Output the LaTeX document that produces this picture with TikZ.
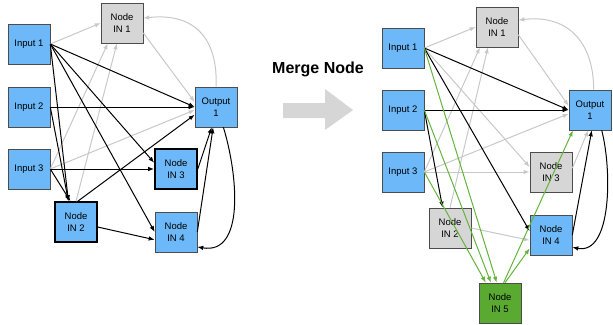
\documentclass[tikz,border=0pt]{standalone}
\usepackage{fontspec}
\setmainfont{Liberation Sans}
\usepackage{xcolor}
\usetikzlibrary{arrows.meta}

\definecolor{boxblue}{RGB}{108,184,248}
\definecolor{boxgrey}{RGB}{214,214,214}
\definecolor{boxgreen}{RGB}{90,170,50}
\definecolor{linegrey}{RGB}{200,200,200}
\definecolor{linegreen}{RGB}{100,180,60}

\tikzset{
  box/.style={draw=black!70, line width=0.6pt, minimum width=42pt, minimum height=40pt, align=center, inner sep=1pt},
  bluebox/.style={box, fill=boxblue},
  greybox/.style={box, fill=boxgrey},
  greenbox/.style={box, fill=boxgreen},
  heavy/.style={draw=black, line width=1.6pt},
  edge/.style={line width=1pt, -{Latex[length=6pt,width=4.5pt]}},
  gline/.style={edge, draw=linegrey},
  bline/.style={edge, draw=black},
  cline/.style={edge, draw=linegreen},
}

\begin{document}
\begin{tikzpicture}[x=1pt, y=-1pt, font=\fontsize{9.5}{11.5}\selectfont]
        \useasboundingbox (0,0) rectangle (613,324);

        % 左图的节点
        \node[bluebox] (I1) at (29,44) {Input 1};
        \node[bluebox] (I2) at (29,107) {Input 2};
        \node[bluebox] (I3) at (29,169) {Input 3};
        \node[greybox] (N1) at (122,23) {Node\\IN 1};
        \node[bluebox, heavy] (N2) at (76,222) {Node\\IN 2};
        \node[bluebox, heavy] (N3) at (176,169) {Node\\IN 3};
        \node[bluebox] (N4) at (176,232) {Node\\IN 4};
        \node[bluebox] (O) at (216,107) {Output\\1};

        % 灰色连线
        \draw[gline] (I1.east) -- (N1.west);
        \draw[gline] (I3.east) -- (N1.235);
        \draw[gline] (N2.north) -- (N1.256);
        \draw[gline] (N1.-25) -- (O.167);
        \draw[gline] (I3.east) -- (O.188);
        \draw[gline] (O.north) .. controls (218,45) and (200,12) .. (N1.13);

        % 黑色连线
        \draw[bline] (I1.east) -- (O.west);
        \draw[bline] (I1.east) -- (N3.164);
        \draw[bline] (I1.east) -- (N4.west);
        \draw[bline] (I1.east) -- (N2.110);
        \draw[bline] (I2.east) -- (O.west);
        \draw[bline] (I2.east) -- (N2.110);
        \draw[bline] (I3.east) -- (N2.105);
        \draw[bline] (I3.east) -- (N3.west);
        \draw[bline] (N2.85) -- (O.200);
        \draw[bline] (N2.-13) -- (N4.200);
        \draw[bline] (N3.east) -- (O.258);
        \draw[bline] (N4.east) -- (O.262);
        \draw[bline] (O.-70) .. controls (238,175) and (245,255) .. (N4.-35);

        % 中间的箭头
        \node[font=\fontsize{16}{18}\selectfont\bfseries] (title) at (318,69) {Merge Node};
        \fill[boxgrey] (283,103) -- (325,103) -- (325,89) -- (353,110)
            -- (325,130) -- (325,118) -- (283,118) -- cycle;

        % 右图的节点
        \node[bluebox] (I1') at (403,48) {Input 1};
        \node[bluebox] (I2') at (403,110) {Input 2};
        \node[bluebox] (I3') at (403,172) {Input 3};
        \node[greybox] (N1') at (497,27) {Node\\IN 1};
        \node[greybox] (N2') at (450,228) {Node\\IN 2};
        \node[greybox] (N3') at (551,172) {Node\\IN 3};
        \node[bluebox] (N4') at (551,235) {Node\\IN 4};
        \node[greenbox] (N5') at (500,303) {Node\\IN 5};
        \node[bluebox] (O') at (590,110) {Output\\1};

        % 灰色连线
        \draw[gline] (I1'.east) -- (N1'.west);
        \draw[gline] (I1'.east) -- (N3'.167);
        \draw[gline] (I3'.east) -- (N1'.230);
        \draw[gline] (I3'.east) -- (O'.190);
        \draw[gline] (I3'.east) -- (N3'.west);
        \draw[gline] (N2'.north) -- (N1'.246);
        \draw[gline] (N2'.east) -- (N4'.194);
        \draw[gline] (N1'.-20) -- (O'.169);
        \draw[gline] (N3'.10) -- (O'.265);
        \draw[gline] (O'.80) .. controls (594,45) and (570,14) .. (N1'.18);

        % 黑色连线
        \draw[bline] (I1'.east) -- (O'.west);
        \draw[bline] (I1'.east) -- (N4'.170);
        \draw[bline] (I2'.east) -- (O'.west);
        \draw[bline] (I2'.east) -- (N2'.110);
        \draw[bline] (N4'.east) -- (O'.-85);
        \draw[bline] (O'.-60) .. controls (612,170) and (612,255) .. (N4'.-30);

        % 绿色连线
        \draw[cline] (I1'.east) -- (N5'.99);
        \draw[cline] (I2'.east) -- (N5'.114);
        \draw[cline] (I3'.east) -- (N5'.125);
        \draw[cline] (N5'.76) -- (N4'.212);
        \draw[cline] (N5'.80) -- (O'.230);
\end{tikzpicture}
\end{document}
